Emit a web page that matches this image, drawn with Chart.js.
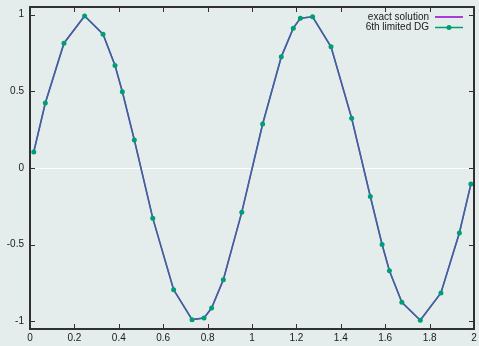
<!DOCTYPE html>
<html>
<head>
<meta charset="utf-8">
<script src="https://cdn.jsdelivr.net/npm/chart.js@4/dist/chart.umd.min.js"></script>
<style>
    html, body { margin: 0; padding: 0; background: #e5ecec; }
    #wrap { width: 479px; height: 346px; }
</style>
</head>
<body>
<div id="wrap"><canvas id="plot" width="479" height="346"></canvas></div>
<script>
// values
const xValues = [
    0.017, 0.069, 0.153, 0.246, 0.329, 0.383, 0.416, 0.47, 0.553, 0.647,
    0.73, 0.784, 0.818, 0.871, 0.954, 1.048, 1.132, 1.186, 1.218, 1.273,
    1.356, 1.449, 1.533, 1.586, 1.619, 1.675, 1.758, 1.851, 1.934, 1.986,
];
const dgValues = [
    0.105, 0.424, 0.814, 0.992, 0.873, 0.669, 0.497, 0.183, -0.327, -0.794,
    -0.989, -0.978, -0.913, -0.728, -0.288, 0.287, 0.725, 0.912, 0.977, 0.986,
    0.79, 0.324, -0.186, -0.499, -0.67, -0.876, -0.993, -0.815, -0.424, -0.105,
];
const exactValues = [
    0.105, 0.424, 0.814, 0.992, 0.873, 0.669, 0.497, 0.183, -0.327, -0.794,
    -0.989, -0.978, -0.913, -0.728, -0.288, 0.287, 0.725, 0.912, 0.977, 0.986,
    0.79, 0.324, -0.186, -0.499, -0.67, -0.876, -0.993, -0.815, -0.424, -0.105,
];
const xTicks = [0, 0.2, 0.4, 0.6, 0.8, 1, 1.2, 1.4, 1.6, 1.8, 2];
const yTicks = [-1, -0.5, 0, 0.5, 1];
const seriesNames = ["exact solution", "6th limited DG"];

const purple = "#9400d3";
const green = "#009e73";
const FONT = "Liberation Sans, Arial, sans-serif";

const toPoints = (ys) => xValues.map((x, i) => ({ x: x, y: ys[i] }));

// gnuplot look: frame, inward ticks on all sides, zero line, legend
const gnuplotFrame = {
    id: "gnuplotFrame",
    beforeDatasetsDraw(chart) {
        const { ctx, chartArea: a, scales } = chart;
        const y0 = scales.y.getPixelForValue(0);
        ctx.save();
        ctx.strokeStyle = "#ffffff";
        ctx.lineWidth = 1;
        ctx.beginPath();
        ctx.moveTo(a.left, Math.round(y0) + 0.5);
        ctx.lineTo(a.right, Math.round(y0) + 0.5);
        ctx.stroke();
        ctx.restore();
    },
    afterDatasetsDraw(chart) {
        const { ctx, chartArea: a, scales } = chart;
        const tick = 5;
        ctx.save();
        ctx.strokeStyle = "#303030";
        ctx.lineWidth = 1;
        ctx.beginPath();
        xTicks.forEach((v) => {
            const px = Math.round(scales.x.getPixelForValue(v)) + 0.5;
            ctx.moveTo(px, a.bottom);
            ctx.lineTo(px, a.bottom - tick);
            ctx.moveTo(px, a.top);
            ctx.lineTo(px, a.top + tick);
        });
        yTicks.forEach((v) => {
            const py = Math.round(scales.y.getPixelForValue(v)) + 0.5;
            ctx.moveTo(a.left, py);
            ctx.lineTo(a.left + tick, py);
            ctx.moveTo(a.right, py);
            ctx.lineTo(a.right - tick, py);
        });
        ctx.stroke();

        ctx.lineWidth = 2;
        ctx.strokeRect(a.left, a.top, a.right - a.left, a.bottom - a.top);

        // legend
        ctx.font = "10px " + FONT;
        ctx.fillStyle = "#1a1a1a";
        ctx.textAlign = "right";
        ctx.textBaseline = "middle";
        const rows = [17, 27.5];
        ctx.fillText(seriesNames[0], 429, rows[0]);
        ctx.fillText(seriesNames[1], 429, rows[1]);

        ctx.lineWidth = 1.5;
        ctx.strokeStyle = purple;
        ctx.beginPath();
        ctx.moveTo(435, rows[0]);
        ctx.lineTo(463, rows[0]);
        ctx.stroke();

        ctx.strokeStyle = green;
        ctx.beginPath();
        ctx.moveTo(435, rows[1]);
        ctx.lineTo(463, rows[1]);
        ctx.stroke();
        ctx.fillStyle = green;
        ctx.beginPath();
        ctx.arc(449, rows[1], 2.5, 0, Math.PI * 2);
        ctx.fill();
        ctx.restore();
    },
};

new Chart(document.getElementById("plot"), {
    type: "scatter",
    data: {
        datasets: [
            {
                label: seriesNames[0],
                data: toPoints(exactValues),
                showLine: true,
                borderColor: purple,
                borderWidth: 1.6,
                pointRadius: 0,
                order: 2,
            },
            {
                label: seriesNames[1],
                data: toPoints(dgValues),
                showLine: true,
                borderColor: "rgba(0,158,115,0.7)",
                borderWidth: 1.4,
                pointRadius: 2.5,
                pointBackgroundColor: green,
                pointBorderWidth: 0,
                order: 1,
            },
        ],
    },
    options: {
        responsive: false,
        animation: false,
        devicePixelRatio: 1,
        layout: { padding: { top: 7, right: 5, left: 0, bottom: 0 } },
        plugins: {
            legend: { display: false },
            tooltip: { enabled: false },
        },
        scales: {
            x: {
                type: "linear",
                min: 0,
                max: 2,
                grid: { display: false, drawTicks: false },
                border: { display: false },
                afterBuildTicks: (scale) => {
                    scale.ticks = xTicks.map((v) => ({ value: v }));
                },
                afterFit: (scale) => {
                    scale.height = 17;
                    scale.paddingLeft = 0;
                    scale.paddingRight = 0;
                },
                ticks: {
                    padding: 3,
                    maxRotation: 0,
                    autoSkip: false,
                    color: "#1a1a1a",
                    font: { family: FONT, size: 10 },
                    callback: (v) => String(v),
                },
            },
            y: {
                type: "linear",
                min: -1.05,
                max: 1.05,
                grid: { display: false, drawTicks: false },
                border: { display: false },
                afterBuildTicks: (scale) => {
                    scale.ticks = yTicks.map((v) => ({ value: v }));
                },
                afterFit: (scale) => {
                    scale.width = 30;
                    scale.paddingTop = 0;
                    scale.paddingBottom = 0;
                },
                ticks: {
                    padding: 6,
                    autoSkip: false,
                    color: "#1a1a1a",
                    font: { family: FONT, size: 10 },
                    callback: (v) => String(v),
                },
            },
        },
    },
    plugins: [gnuplotFrame],
});
</script>
</body>
</html>
